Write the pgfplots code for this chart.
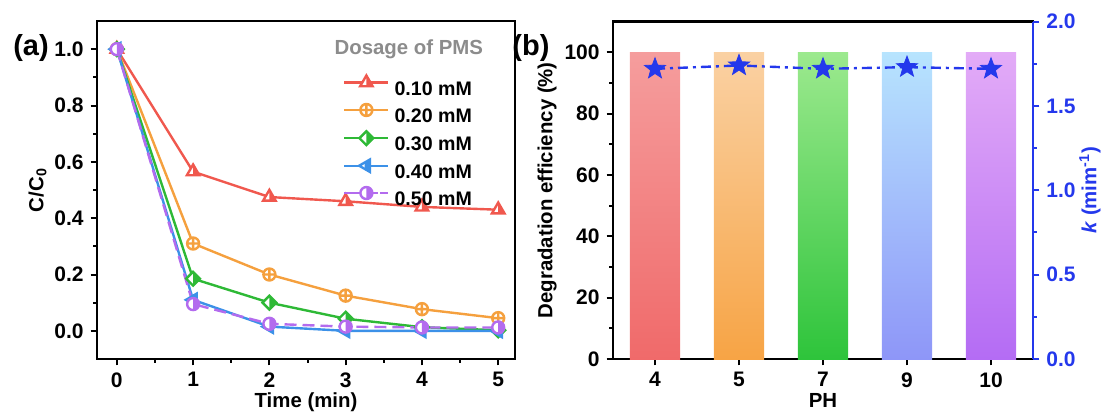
\documentclass[border=0pt]{standalone}
\usepackage{fontspec}
\setmainfont{Liberation Sans}
\usepackage{pgfplots}
\pgfplotsset{compat=1.18}

\definecolor{cred}{HTML}{F0584E}
\definecolor{corange}{HTML}{F5A03E}
\definecolor{cgreen}{HTML}{2EB936}
\definecolor{cblue}{HTML}{3C91E8}
\definecolor{cpurple}{HTML}{B36BEE}
\definecolor{kblue}{HTML}{2438EC}
\definecolor{b1t}{HTML}{F59D9D}\definecolor{b1b}{HTML}{F06A6A}
\definecolor{b2t}{HTML}{FAD1A3}\definecolor{b2b}{HTML}{F7A445}
\definecolor{b3t}{HTML}{9CE98E}\definecolor{b3b}{HTML}{2EC43B}
\definecolor{b4t}{HTML}{B7E4FE}\definecolor{b4b}{HTML}{8E96F8}
\definecolor{b5t}{HTML}{E3ABF7}\definecolor{b5b}{HTML}{B46CF4}

% half filled marks (Origin style)
\pgfdeclareplotmark{htri}{%
  \begin{pgfscope}\pgfsetfillcolor{white}
  \pgfpathmoveto{\pgfqpoint{0pt}{1.2\pgfplotmarksize}}
  \pgfpathlineto{\pgfqpoint{1.04\pgfplotmarksize}{-0.6\pgfplotmarksize}}
  \pgfpathlineto{\pgfqpoint{-1.04\pgfplotmarksize}{-0.6\pgfplotmarksize}}
  \pgfpathclose\pgfusepathqfill\end{pgfscope}
  \pgfpathmoveto{\pgfqpoint{0pt}{1.2\pgfplotmarksize}}
  \pgfpathlineto{\pgfqpoint{1.04\pgfplotmarksize}{-0.6\pgfplotmarksize}}
  \pgfpathlineto{\pgfqpoint{0pt}{-0.6\pgfplotmarksize}}
  \pgfpathclose\pgfusepathqfill
  \pgfpathmoveto{\pgfqpoint{0pt}{1.2\pgfplotmarksize}}
  \pgfpathlineto{\pgfqpoint{1.04\pgfplotmarksize}{-0.6\pgfplotmarksize}}
  \pgfpathlineto{\pgfqpoint{-1.04\pgfplotmarksize}{-0.6\pgfplotmarksize}}
  \pgfpathclose\pgfusepathqstroke}
\pgfdeclareplotmark{cplus}{%
  \begin{pgfscope}\pgfsetfillcolor{white}
  \pgfpathcircle{\pgfpointorigin}{\pgfplotmarksize}\pgfusepathqfill\end{pgfscope}
  \pgfpathcircle{\pgfpointorigin}{\pgfplotmarksize}
  \pgfpathmoveto{\pgfqpoint{-\pgfplotmarksize}{0pt}}\pgfpathlineto{\pgfqpoint{\pgfplotmarksize}{0pt}}
  \pgfpathmoveto{\pgfqpoint{0pt}{-\pgfplotmarksize}}\pgfpathlineto{\pgfqpoint{0pt}{\pgfplotmarksize}}
  \pgfusepathqstroke}
\pgfdeclareplotmark{hdia}{%
  \begin{pgfscope}\pgfsetfillcolor{white}
  \pgfpathmoveto{\pgfqpoint{0pt}{1.15\pgfplotmarksize}}
  \pgfpathlineto{\pgfqpoint{1.15\pgfplotmarksize}{0pt}}
  \pgfpathlineto{\pgfqpoint{0pt}{-1.15\pgfplotmarksize}}
  \pgfpathlineto{\pgfqpoint{-1.15\pgfplotmarksize}{0pt}}
  \pgfpathclose\pgfusepathqfill\end{pgfscope}
  \pgfpathmoveto{\pgfqpoint{0pt}{1.15\pgfplotmarksize}}
  \pgfpathlineto{\pgfqpoint{1.15\pgfplotmarksize}{0pt}}
  \pgfpathlineto{\pgfqpoint{0pt}{-1.15\pgfplotmarksize}}
  \pgfpathclose\pgfusepathqfill
  \pgfpathmoveto{\pgfqpoint{0pt}{1.15\pgfplotmarksize}}
  \pgfpathlineto{\pgfqpoint{1.15\pgfplotmarksize}{0pt}}
  \pgfpathlineto{\pgfqpoint{0pt}{-1.15\pgfplotmarksize}}
  \pgfpathlineto{\pgfqpoint{-1.15\pgfplotmarksize}{0pt}}
  \pgfpathclose\pgfusepathqstroke}
\pgfdeclareplotmark{hltri}{%
  \begin{pgfscope}\pgfsetfillcolor{white}
  \pgfpathmoveto{\pgfqpoint{-1.2\pgfplotmarksize}{0pt}}
  \pgfpathlineto{\pgfqpoint{0.6\pgfplotmarksize}{1.04\pgfplotmarksize}}
  \pgfpathlineto{\pgfqpoint{0.6\pgfplotmarksize}{-1.04\pgfplotmarksize}}
  \pgfpathclose\pgfusepathqfill\end{pgfscope}
  \pgfpathmoveto{\pgfqpoint{-0.3\pgfplotmarksize}{0.52\pgfplotmarksize}}
  \pgfpathlineto{\pgfqpoint{0.6\pgfplotmarksize}{1.04\pgfplotmarksize}}
  \pgfpathlineto{\pgfqpoint{0.6\pgfplotmarksize}{-1.04\pgfplotmarksize}}
  \pgfpathlineto{\pgfqpoint{-0.3\pgfplotmarksize}{-0.52\pgfplotmarksize}}
  \pgfpathclose\pgfusepathqfill
  \pgfpathmoveto{\pgfqpoint{-1.2\pgfplotmarksize}{0pt}}
  \pgfpathlineto{\pgfqpoint{0.6\pgfplotmarksize}{1.04\pgfplotmarksize}}
  \pgfpathlineto{\pgfqpoint{0.6\pgfplotmarksize}{-1.04\pgfplotmarksize}}
  \pgfpathclose\pgfusepathqstroke}
\pgfdeclareplotmark{hcirc}{%
  \begin{pgfscope}\pgfsetfillcolor{white}
  \pgfpathcircle{\pgfpointorigin}{\pgfplotmarksize}\pgfusepathqfill\end{pgfscope}
  \pgfpathmoveto{\pgfqpoint{0pt}{\pgfplotmarksize}}
  \pgfpatharc{90}{-90}{\pgfplotmarksize}\pgfpathclose\pgfusepathqfill
  \pgfpathcircle{\pgfpointorigin}{\pgfplotmarksize}\pgfusepathqstroke}
% filled five-point star
\pgfdeclareplotmark{fstar}{%
  \pgfpathmoveto{\pgfqpointpolar{90}{\pgfplotmarksize}}
  \pgfpathlineto{\pgfqpointpolar{126}{0.42\pgfplotmarksize}}
  \pgfpathlineto{\pgfqpointpolar{162}{\pgfplotmarksize}}
  \pgfpathlineto{\pgfqpointpolar{198}{0.42\pgfplotmarksize}}
  \pgfpathlineto{\pgfqpointpolar{234}{\pgfplotmarksize}}
  \pgfpathlineto{\pgfqpointpolar{270}{0.42\pgfplotmarksize}}
  \pgfpathlineto{\pgfqpointpolar{306}{\pgfplotmarksize}}
  \pgfpathlineto{\pgfqpointpolar{342}{0.42\pgfplotmarksize}}
  \pgfpathlineto{\pgfqpointpolar{18}{\pgfplotmarksize}}
  \pgfpathlineto{\pgfqpointpolar{54}{0.42\pgfplotmarksize}}
  \pgfpathclose\pgfusepathqfillstroke}

\pgfplotsset{
  every axis/.append style={
    scale only axis,
    axis line style={line width=1.1pt},
    every tick/.style={line width=1pt, black},
    major tick length=3.2pt, minor tick length=1.8pt,
    tick align=outside,
    tick label style={font=\fontsize{10.5}{11}\selectfont\bfseries},
    label style={font=\fontsize{10.2}{11}\selectfont\bfseries},
    /pgf/number format/assume math mode=true,
  },
}

\begin{document}
\begin{tikzpicture}
\useasboundingbox (-48.5pt,-26.5pt) rectangle (502pt,179.5pt);
% ---- (a) ----
\begin{axis}[
  at={(0pt,0pt)}, anchor=south west,
  width=209pt, height=169pt,
  xmin=-0.26, xmax=5.22, ymin=-0.1, ymax=1.1,
  xtick={0,1,2,3,4,5}, ytick={0,0.2,0.4,0.6,0.8,1.0},
  minor x tick num=1, minor y tick num=1,
  xtick pos=bottom, ytick pos=left,
  yticklabel style={/pgf/number format/.cd,fixed,fixed zerofill,precision=1},
  xlabel={Time (min)}, ylabel={C/C\textsubscript{0}},
  xlabel style={yshift=4pt}, ylabel style={yshift=-3pt},
  every axis plot/.append style={line width=1.2pt, mark size=3pt},
  legend style={at={(axis description cs:0.588,0.84)}, anchor=north west,
    draw=none, fill=none, inner sep=0pt,
    font=\fontsize{9.8}{10}\selectfont\bfseries,
    nodes={inner sep=0pt, text height=7.5pt, text depth=2pt},
    row sep=2.3pt},
  legend cell align=left,
  legend image code/.code={%
    \draw[#1,mark=none] (0pt,3.6pt) -- (22pt,3.6pt);
    \draw[#1,mark repeat=2,mark phase=2] plot coordinates {(5pt,3.6pt) (11pt,3.6pt) (17pt,3.6pt)};
    \path (24.5pt,3.6pt);},
]
\addplot[cred, mark=htri, mark options={solid, fill=cred}] coordinates {
  (0,1.0) (1,0.565) (2,0.475) (3,0.46) (4,0.44) (5,0.43)};
\addlegendentry{0.10 mM}
\addplot[corange, mark=cplus, mark options={solid}] coordinates {
  (0,1.0) (1,0.31) (2,0.20) (3,0.125) (4,0.077) (5,0.045)};
\addlegendentry{0.20 mM}
\addplot[cgreen, mark=hdia, mark options={solid, fill=cgreen}] coordinates {
  (0,1.0) (1,0.185) (2,0.10) (3,0.043) (4,0.013) (5,0.002)};
\addlegendentry{0.30 mM}
\addplot[cblue, mark=hltri, mark options={solid, fill=cblue}] coordinates {
  (0,1.0) (1,0.11) (2,0.015) (3,0.0) (4,0.0) (5,0.0)};
\addlegendentry{0.40 mM}
\addplot[cpurple, dash pattern=on 6pt off 3pt, mark=hcirc, mark options={solid, fill=cpurple}] coordinates {
  (0,1.0) (1,0.095) (2,0.025) (3,0.015) (4,0.012) (5,0.012)};
\addlegendentry{0.50 mM}
\node[font=\fontsize{10.2}{11}\selectfont\bfseries, text=black!45] at (axis description cs:0.746,0.915) {Dosage of PMS};
\end{axis}
\node[font=\fontsize{14.5}{15}\selectfont\bfseries] at (-33pt,155.5pt) {(a)};
\node[font=\fontsize{14.5}{15}\selectfont\bfseries] at (217pt,155.5pt) {(b)};

% ---- (b) bars ----
\begin{axis}[
  at={(258pt,0pt)}, anchor=south west,
  width=210pt, height=168.7pt,
  xmin=-0.5, xmax=4.5, ymin=0, ymax=110,
  xtick={0,1,2,3,4}, xticklabels={4,5,7,9,10},
  ytick={0,20,40,60,80,100}, minor y tick num=1,
  xtick pos=bottom, ytick pos=left,
  xlabel={PH}, ylabel={Degradation efficiency (\%)},
  xlabel style={yshift=4pt}, ylabel style={yshift=-3pt},
]
\addplot[ybar, bar width=0.6, bar shift=0pt, draw=none, top color=b1t, bottom color=b1b] coordinates {(0,100)};
\addplot[ybar, bar width=0.6, bar shift=0pt, draw=none, top color=b2t, bottom color=b2b] coordinates {(1,100)};
\addplot[ybar, bar width=0.6, bar shift=0pt, draw=none, top color=b3t, bottom color=b3b] coordinates {(2,100)};
\addplot[ybar, bar width=0.6, bar shift=0pt, draw=none, top color=b4t, bottom color=b4b] coordinates {(3,100)};
\addplot[ybar, bar width=0.6, bar shift=0pt, draw=none, top color=b5t, bottom color=b5b] coordinates {(4,100)};
\end{axis}

% ---- (b) k axis ----
\begin{axis}[
  at={(258pt,0pt)}, anchor=south west,
  width=210pt, height=168.7pt,
  xmin=-0.5, xmax=4.5, ymin=0, ymax=2,
  axis x line=none, axis y line*=right,
  axis line style={line width=1.1pt, kblue, -},
  every tick/.style={line width=1pt, kblue},
  ytick={0,0.5,1.0,1.5,2.0}, minor y tick num=1,
  yticklabel style={text=kblue, /pgf/number format/.cd,fixed,fixed zerofill,precision=1},
  ylabel={\textit{k} (mim\textsuperscript{-1})}, ylabel style={text=kblue, yshift=5pt},
]
\addplot[kblue, line width=1.2pt, dash pattern=on 5pt off 2.5pt on 1.5pt off 2.5pt,
  mark=fstar, mark size=5.5pt, mark options={solid, fill=kblue, line width=0.4pt}] coordinates {
  (0,1.72) (1,1.74) (2,1.72) (3,1.73) (4,1.72)};
\end{axis}
\end{tikzpicture}
\end{document}
